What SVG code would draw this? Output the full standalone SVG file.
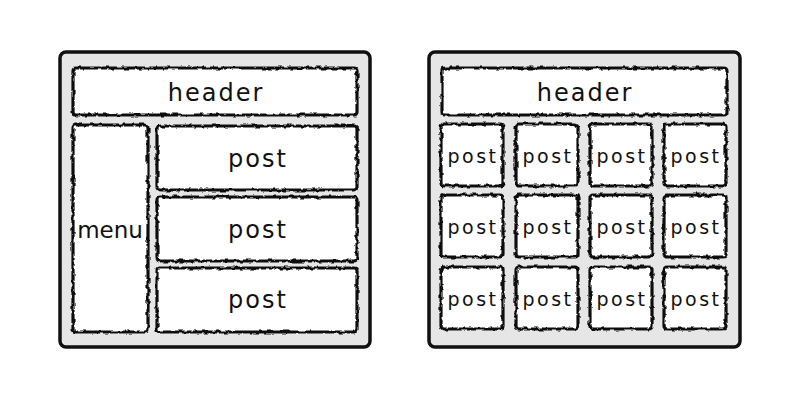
<svg xmlns="http://www.w3.org/2000/svg" width="800" height="400" viewBox="0 0 800 400">
<defs>
<filter id="rough" x="-5%" y="-5%" width="110%" height="110%">
<feTurbulence type="fractalNoise" baseFrequency="0.18" numOctaves="2" seed="5" result="n"/>
<feDisplacementMap in="SourceGraphic" in2="n" scale="4" xChannelSelector="R" yChannelSelector="G"/>
</filter>
<style>
.outer{fill:#e6e6e6;stroke:#111;stroke-width:3.5}
.box{fill:#fff;stroke:#111;stroke-width:3.2;filter:url(#rough)}
.t{font-family:"DejaVu Sans","Liberation Sans",sans-serif;fill:#111;text-anchor:middle;dominant-baseline:central}
.big{font-size:24px;letter-spacing:2px}
.menu{font-size:23px}
.small{font-size:19px;letter-spacing:2.5px}
</style>
</defs>
<rect width="800" height="400" fill="#fff"/>
<g id="layout-left">
<rect class="outer" x="60" y="52" width="310" height="295" rx="6"/>
<g id="l-header"><rect class="box" x="73" y="68" width="284" height="47" rx="3"/><text class="t big" x="216" y="93">header</text></g>
<g id="l-menu"><rect class="box" x="73" y="125" width="75" height="207" rx="3"/><text class="t menu" x="110" y="230">menu</text></g>
<g id="l-post1"><rect class="box" x="157" y="126" width="200" height="64" rx="3"/><text class="t big" x="258" y="159">post</text></g>
<g id="l-post2"><rect class="box" x="157" y="197" width="200" height="64" rx="3"/><text class="t big" x="258" y="230">post</text></g>
<g id="l-post3"><rect class="box" x="157" y="268" width="200" height="64" rx="3"/><text class="t big" x="258" y="300">post</text></g>
</g>
<g id="layout-right">
<rect class="outer" x="429" y="52" width="311" height="295" rx="6"/>
<g id="r-header"><rect class="box" x="442" y="68" width="285" height="47" rx="3"/><text class="t big" x="585" y="93">header</text></g>
<g id="r-p11"><rect class="box" x="441" y="124" width="62" height="62" rx="3"/><text class="t small" x="473" y="156">post</text></g>
<g id="r-p12"><rect class="box" x="516" y="124" width="62" height="62" rx="3"/><text class="t small" x="548" y="156">post</text></g>
<g id="r-p13"><rect class="box" x="590" y="124" width="62" height="62" rx="3"/><text class="t small" x="622" y="156">post</text></g>
<g id="r-p14"><rect class="box" x="664" y="124" width="62" height="62" rx="3"/><text class="t small" x="696" y="156">post</text></g>
<g id="r-p21"><rect class="box" x="441" y="195" width="62" height="62" rx="3"/><text class="t small" x="473" y="227">post</text></g>
<g id="r-p22"><rect class="box" x="516" y="195" width="62" height="62" rx="3"/><text class="t small" x="548" y="227">post</text></g>
<g id="r-p23"><rect class="box" x="590" y="195" width="62" height="62" rx="3"/><text class="t small" x="622" y="227">post</text></g>
<g id="r-p24"><rect class="box" x="664" y="195" width="62" height="62" rx="3"/><text class="t small" x="696" y="227">post</text></g>
<g id="r-p31"><rect class="box" x="441" y="267" width="62" height="62" rx="3"/><text class="t small" x="473" y="299">post</text></g>
<g id="r-p32"><rect class="box" x="516" y="267" width="62" height="62" rx="3"/><text class="t small" x="548" y="299">post</text></g>
<g id="r-p33"><rect class="box" x="590" y="267" width="62" height="62" rx="3"/><text class="t small" x="622" y="299">post</text></g>
<g id="r-p34"><rect class="box" x="664" y="267" width="62" height="62" rx="3"/><text class="t small" x="696" y="299">post</text></g>
</g>
<g id="connectors"/>
</svg>
